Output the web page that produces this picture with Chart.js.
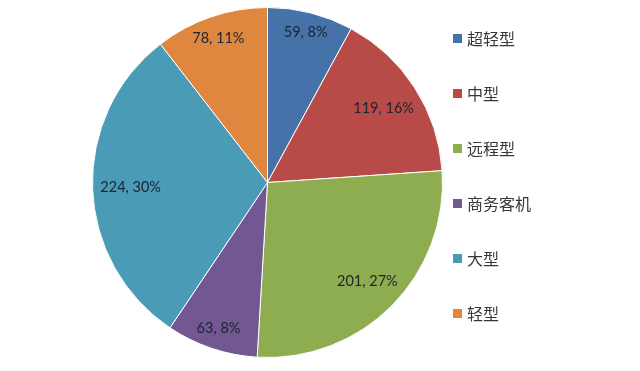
<!DOCTYPE html>
<html>
<head>
<meta charset="utf-8">
<script src="https://cdn.jsdelivr.net/npm/chart.js@4"></script>
<style>
  html, body { margin: 0; padding: 0; background: #fff; }
  #wrap { width: 640px; height: 371px; }
</style>
</head>
<body>
<div id="wrap"><canvas id="pie"></canvas></div>
<script>
const categories = ['超轻型', '中型', '远程型', '商务客机', '大型', '轻型'];
const counts = [59, 119, 201, 63, 224, 78];
const shares = ['8%', '16%', '27%', '8%', '30%', '11%'];
const colors = ['#4672AA', '#B84A47', '#8EAC50', '#725792', '#4A9BB5', '#E0873F'];

// value labels, placed inside the outer edge of each slice like Excel's best fit
const sliceLabels = {
  id: 'sliceLabels',
  afterDatasetsDraw(chart) {
    const ctx = chart.ctx;
    const arcs = chart.getDatasetMeta(0).data;
    ctx.save();
    ctx.font = '14.5px Lato, "Open Sans", sans-serif';
    ctx.fillStyle = '#1b2433';
    ctx.textAlign = 'center';
    ctx.textBaseline = 'middle';
    arcs.forEach((arc, i) => {
      const text = counts[i] + ', ' + shares[i];
      const mid = (arc.startAngle + arc.endAngle) / 2;
      const w = ctx.measureText(text).width;
      const h = 15;
      const c = Math.cos(mid), s = Math.sin(mid);
      const r = arc.outerRadius - (Math.abs(c) * w / 2 + Math.abs(s) * h / 2) - 7.5;
      ctx.fillText(text, arc.x + c * r, arc.y + s * r);
    });
    ctx.restore();
  }
};

// legend on the right
const sideLegend = {
  id: 'sideLegend',
  afterDraw(chart) {
    const ctx = chart.ctx;
    ctx.save();
    ctx.font = '16px "Noto Sans CJK SC", sans-serif';
    ctx.textBaseline = 'middle';
    ctx.textAlign = 'left';
    categories.forEach((name, i) => {
      const y = 38.5 + i * 55;
      ctx.fillStyle = colors[i];
      ctx.fillRect(453, y - 4.5, 9, 9);
      ctx.fillStyle = '#383838';
      ctx.fillText(name, 467, y);
    });
    ctx.restore();
  }
};

new Chart(document.getElementById('pie'), {
  type: 'pie',
  data: {
    labels: categories,
    datasets: [{
      data: counts,
      backgroundColor: colors,
      borderColor: '#fff',
      borderWidth: 1
    }]
  },
  options: {
    responsive: true,
    maintainAspectRatio: false,
    animation: false,
    layout: { padding: { left: 92, right: 197, top: 7, bottom: 13 } },
    plugins: {
      legend: { display: false },
      tooltip: { enabled: false }
    }
  },
  plugins: [sliceLabels, sideLegend]
});
</script>
</body>
</html>
